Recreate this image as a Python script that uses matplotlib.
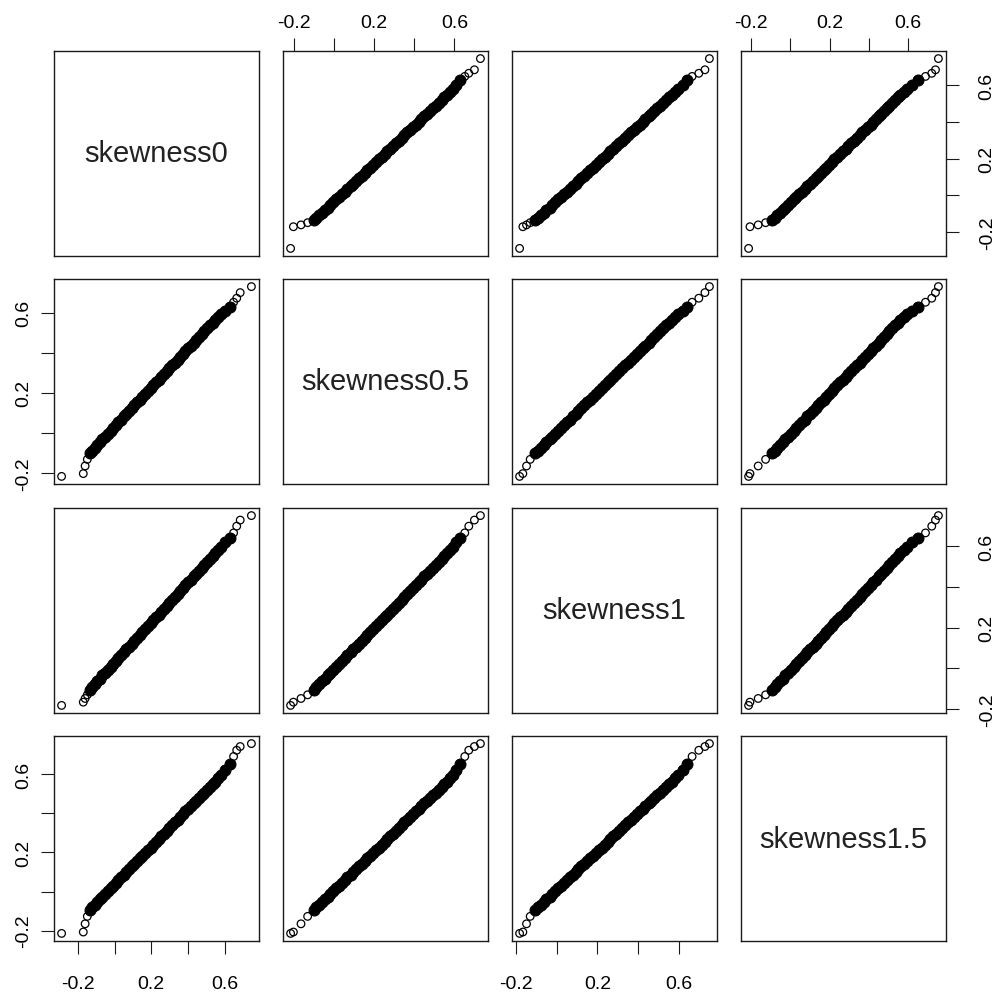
import numpy as np
import matplotlib
matplotlib.use("Agg")
import matplotlib.pyplot as plt

plt.rcParams['font.family'] = ['Liberation Sans', 'DejaVu Sans']

# variable names shown on the diagonal
names = ['skewness0', 'skewness0.5', 'skewness1', 'skewness1.5']

# sorted sample values (low tail, body, high tail)
skew0 = [-0.288, -0.170, -0.160, -0.148, -0.133,
         -0.122, -0.108, -0.095, -0.079, -0.066, -0.050, -0.037, -0.021, -0.008, 0.006,
         0.021, 0.035, 0.051, 0.064, 0.080, 0.094, 0.108, 0.123, 0.139, 0.152,
         0.167, 0.183, 0.196, 0.211, 0.226, 0.240, 0.255, 0.270, 0.284, 0.299,
         0.313, 0.328, 0.343, 0.357, 0.372, 0.386, 0.401, 0.416, 0.430, 0.446,
         0.460, 0.474, 0.489, 0.504, 0.518, 0.534, 0.548, 0.563, 0.579, 0.600,
         0.630, 0.648, 0.665, 0.684, 0.745]
skew05 = [-0.217, -0.203, -0.165, -0.132, -0.100,
          -0.088, -0.075, -0.059, -0.047, -0.032, -0.019, -0.003, 0.010, 0.024, 0.038,
          0.053, 0.066, 0.082, 0.094, 0.110, 0.123, 0.138, 0.152, 0.166, 0.180,
          0.195, 0.208, 0.224, 0.237, 0.252, 0.265, 0.280, 0.294, 0.309, 0.322,
          0.337, 0.351, 0.365, 0.379, 0.394, 0.407, 0.422, 0.436, 0.450, 0.465,
          0.479, 0.493, 0.508, 0.521, 0.537, 0.550, 0.565, 0.579, 0.594, 0.610,
          0.630, 0.652, 0.672, 0.700, 0.730]
skew1 = [-0.182, -0.166, -0.148, -0.130, -0.105,
         -0.092, -0.078, -0.063, -0.050, -0.034, -0.021, -0.007, 0.008, 0.021, 0.036,
         0.050, 0.065, 0.078, 0.093, 0.107, 0.121, 0.136, 0.150, 0.164, 0.179,
         0.193, 0.207, 0.221, 0.236, 0.250, 0.264, 0.279, 0.293, 0.307, 0.322,
         0.336, 0.350, 0.365, 0.379, 0.393, 0.408, 0.422, 0.436, 0.451, 0.465,
         0.479, 0.494, 0.508, 0.522, 0.537, 0.551, 0.566, 0.581, 0.598, 0.618,
         0.640, 0.665, 0.698, 0.728, 0.750]
skew15 = [-0.214, -0.207, -0.165, -0.127, -0.093,
          -0.080, -0.068, -0.054, -0.040, -0.027, -0.012, 0.001, 0.016, 0.029, 0.044,
          0.057, 0.072, 0.085, 0.100, 0.113, 0.128, 0.141, 0.156, 0.169, 0.184,
          0.197, 0.212, 0.225, 0.240, 0.254, 0.268, 0.282, 0.296, 0.310, 0.324,
          0.338, 0.353, 0.366, 0.381, 0.394, 0.409, 0.422, 0.437, 0.450, 0.465,
          0.478, 0.493, 0.506, 0.521, 0.534, 0.549, 0.562, 0.578, 0.596, 0.622,
          0.650, 0.690, 0.722, 0.741, 0.756]

tick_vals = [-0.2, 0.0, 0.2, 0.4, 0.6]
tick_labs = ['-0.2', '', '0.2', '', '0.6']

data = [np.array(skew0), np.array(skew05), np.array(skew1), np.array(skew15)]
n = len(data)
body = slice(4, 56)   # the crowded middle where circles merge into a solid band

W, H = 998, 995
fig = plt.figure(figsize=(W / 100, H / 100), dpi=100)

col_x = [54, 283, 512, 741]
row_y = [52, 280, 509, 737]
size = 205

def lims(v):
    lo, hi = v.min(), v.max()
    pad = 0.04 * (hi - lo)
    return lo - pad, hi + pad

for i in range(n):
    for j in range(n):
        ax = fig.add_axes([col_x[j] / W, 1 - (row_y[i] + size) / H, size / W, size / H])
        for s in ax.spines.values():
            s.set_linewidth(1.0)
            s.set_color('#1a1a1a')
        ax.set_xlim(lims(data[j]))
        ax.set_ylim(lims(data[i]))
        ax.tick_params(length=9.5, width=0.8, color='#1a1a1a', labelsize=14)
        ax.set_xticks([])
        ax.set_yticks([])
        if i == j:
            ax.text(0.5, 0.5, names[i], transform=ax.transAxes,
                    ha='center', va='center', fontsize=21, color='#222222')
        else:
            ax.scatter(data[j], data[i], s=30, facecolors='none',
                       edgecolors='black', linewidths=0.9)
            ax.scatter(data[j][body], data[i][body], s=60, facecolors='black',
                       edgecolors='black', linewidths=0.9)
        # R pairs-style alternating axes
        if i == 0 and j % 2 == 1:
            ax.xaxis.set_ticks_position('top')
            ax.set_xticks(tick_vals)
            ax.set_xticklabels(tick_labs)
            ax.tick_params(axis='x', pad=5)
        if i == n - 1 and j % 2 == 0:
            ax.set_xticks(tick_vals)
            ax.set_xticklabels(tick_labs)
            ax.tick_params(axis='x', pad=15)
        if j == 0 and i % 2 == 1:
            ax.set_yticks(tick_vals)
            ax.set_yticklabels(tick_labs, rotation=90, va='center')
            ax.tick_params(axis='y', pad=6)
        if j == n - 1 and i % 2 == 0:
            ax.yaxis.set_ticks_position('right')
            ax.set_yticks(tick_vals)
            ax.set_yticklabels(tick_labs, rotation=90, va='center')
            ax.tick_params(axis='y', pad=14)

fig.savefig('out.png', dpi=100, facecolor='white')
